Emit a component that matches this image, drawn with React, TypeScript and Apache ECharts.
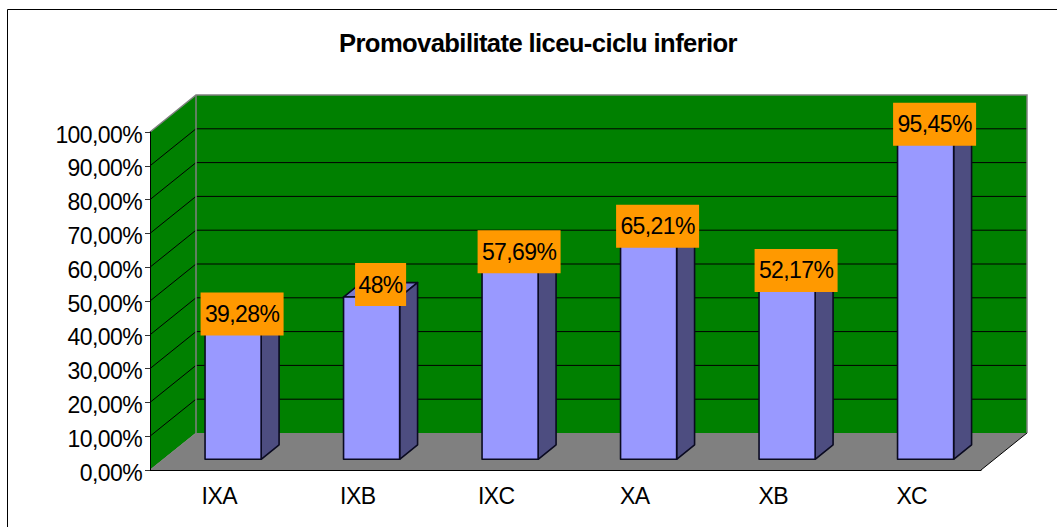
import React, { useEffect, useRef } from "react";
import * as echarts from "echarts";

const titleText = "Promovabilitate liceu-ciclu inferior";
const categories = ["IXA", "IXB", "IXC", "XA", "XB", "XC"];
const values = [39.28, 48, 57.69, 65.21, 52.17, 95.45];
const valueLabels = ["39,28%", "48%", "57,69%", "65,21%", "52,17%", "95,45%"];
const gridValues = [10, 20, 30, 40, 50, 60, 70, 80, 90];

const FONT = "'Liberation Sans', Arial, sans-serif";
const DEPTH_X = 46;
const DEPTH_Y = -37;
const GREEN = "#008000";
const GREY = "#808080";

function renderWalls(_params: any, api: any) {
  const size = api.size([1, 0])[0];
  const x0 = api.coord([0, 0])[0] - size / 2;
  const x1 = x0 + size * categories.length;
  const y0 = api.coord([0, 0])[1];
  const y100 = api.coord([0, 100])[1];
  const P = (x: number, y: number, d = 0) => [x + DEPTH_X * d, y + DEPTH_Y * d];
  const children: any[] = [
    { type: "polygon", shape: { points: [P(x0, y100), P(x0, y100, 1), P(x0, y0, 1), P(x0, y0)] }, style: { fill: GREEN } },
    { type: "polygon", shape: { points: [P(x0, y100, 1), P(x1, y100, 1), P(x1, y0, 1), P(x0, y0, 1)] }, style: { fill: GREEN } },
    { type: "polygon", shape: { points: [P(x0, y0), P(x0, y0, 1), P(x1, y0, 1), P(x1, y0)] }, style: { fill: GREY } },
  ];
  gridValues.forEach((v) => {
    const y = api.coord([0, v])[1];
    children.push({
      type: "polyline",
      shape: { points: [P(x0, y), P(x0, y, 1), P(x1, y, 1)] },
      style: { fill: "none", stroke: "#000", lineWidth: 1 },
    });
  });
  children.push({
    type: "polyline",
    shape: { points: [P(x0, y100), P(x0, y100, 1), P(x1, y100, 1), P(x1, y0, 1)] },
    style: { fill: "none", stroke: GREY, lineWidth: 1.5 },
  });
  children.push({
    type: "line",
    shape: { x1: P(x0, y0, 1)[0], y1: P(x0, y0, 1)[1], x2: P(x0, y100, 1)[0], y2: P(x0, y100, 1)[1] },
    style: { stroke: GREY, lineWidth: 1.5 },
  });
  children.push({
    type: "line",
    shape: { x1: P(x0, y0)[0], y1: P(x0, y0)[1], x2: P(x0, y0, 1)[0], y2: P(x0, y0, 1)[1] },
    style: { stroke: GREY, lineWidth: 1 },
  });
  children.push({
    type: "line",
    shape: { x1: P(x1, y0)[0], y1: P(x1, y0)[1], x2: P(x1, y0, 1)[0], y2: P(x1, y0, 1)[1] },
    style: { stroke: "#000", lineWidth: 1 },
  });
  return { type: "group", children };
}

function renderBar(_params: any, api: any) {
  const idx = api.value(0);
  const val = api.value(1);
  const size = api.size([1, 0])[0];
  const base = api.coord([idx, 0]);
  const top = api.coord([idx, val]);
  const w = size * 0.405;
  const d0 = 0.29;
  const d1 = 0.39;
  const lx = base[0] + DEPTH_X * d0 - w / 2 + 0.5;
  const rx = lx + w;
  const by = base[1] + DEPTH_Y * d0;
  const ty = top[1] + DEPTH_Y * d0;
  const sx = DEPTH_X * d1;
  const sy = DEPTH_Y * d1;
  const stroke = { stroke: "#0a0a20", lineWidth: 1.6, lineJoin: "round" };
  return {
    type: "group",
    children: [
      { type: "polygon", shape: { points: [[lx, ty], [rx, ty], [rx + sx, ty + sy], [lx + sx, ty + sy]] }, style: { fill: "#7a7acc", ...stroke } },
      { type: "polygon", shape: { points: [[rx, ty], [rx + sx, ty + sy], [rx + sx, by + sy], [rx, by]] }, style: { fill: "#4d4d80", ...stroke } },
      { type: "rect", shape: { x: lx, y: ty, width: w, height: by - ty }, style: { fill: "#9999ff", ...stroke } },
    ],
  };
}

function renderLabel(params: any, api: any) {
  const idx = api.value(0);
  const val = api.value(1);
  const base = api.coord([idx, 0]);
  const top = api.coord([idx, val]);
  const x = base[0] + DEPTH_X * 0.29 + 9.5;
  const y = top[1] + DEPTH_Y * 0.29 - 12.5;
  return {
    type: "text",
    x,
    y,
    style: {
      text: valueLabels[params.dataIndex],
      fontFamily: FONT,
      fontSize: 23,
      lineHeight: 25,
      fill: "#000",
      align: "center",
      verticalAlign: "middle",
      backgroundColor: "#ff9900",
      padding: [9, 2.5, 9, 2.5],
    },
  };
}

export default function App() {
  const ref = useRef<HTMLDivElement>(null);
  useEffect(() => {
    const chart = echarts.init(ref.current!, undefined, { renderer: "svg" });
    const pts = values.map((v, i) => [i, v]);
    chart.setOption({
      animation: false,
      backgroundColor: "#fff",
      title: {
        text: titleText,
        left: 533,
        top: 25,
        textAlign: "center",
        textStyle: { fontFamily: FONT, fontSize: 25.6, fontWeight: "bold", color: "#000" },
      },
      graphic: [
        {
          type: "polyline",
          shape: { points: [[7.5, 527], [7.5, 9.5], [1057, 9.5]] },
          style: { fill: "none", stroke: "#000", lineWidth: 1 },
        },
      ],
      grid: { left: 150, top: 132, width: 831, height: 338 },
      xAxis: {
        type: "category",
        data: categories,
        axisLine: { lineStyle: { color: "#000", width: 1 } },
        axisTick: { length: 6, lineStyle: { color: "#555" } },
        axisLabel: { fontFamily: FONT, fontSize: 23, color: "#000", margin: 14 },
        splitLine: { show: false },
        z: 5,
      },
      yAxis: {
        type: "value",
        min: 0,
        max: 100,
        interval: 10,
        axisLine: { show: true, lineStyle: { color: "#000", width: 1 } },
        axisTick: { show: true, length: 5, lineStyle: { color: "#333" } },
        axisLabel: {
          fontFamily: FONT,
          fontSize: 23,
          color: "#000",
          margin: 8,
          verticalAlign: "top",
          lineHeight: 5,
          formatter: (v: number) => v.toFixed(2).replace(".", ",") + "%",
        },
        splitLine: { show: false },
        z: 5,
      },
      series: [
        { type: "custom", silent: true, z: 1, data: [[0, 0]], renderItem: renderWalls, clip: false },
        { type: "custom", silent: true, z: 6, data: pts, renderItem: renderBar, clip: false },
        { type: "custom", silent: true, z: 7, data: pts, renderItem: renderLabel, clip: false },
      ],
    });
    return () => chart.dispose();
  }, []);
  return <div ref={ref} style={{ position: "absolute", left: 0, top: 0, width: 1057, height: 527, letterSpacing: "-0.6px" }} />;
}
